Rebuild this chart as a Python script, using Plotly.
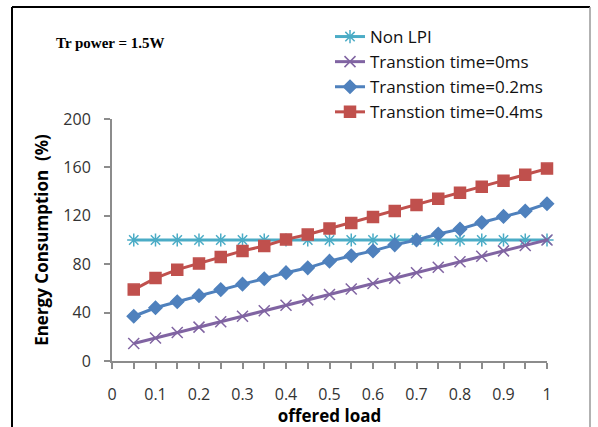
import plotly.graph_objects as go

load = [0.05, 0.1, 0.15, 0.2, 0.25, 0.3, 0.35, 0.4, 0.45, 0.5,
        0.55, 0.6, 0.65, 0.7, 0.75, 0.8, 0.85, 0.9, 0.95, 1.0]
non_lpi = [100] * 20
t_0ms = [14.5, 19, 23.5, 28, 32.5, 37, 41.5, 46, 50.5, 55,
         59.5, 64, 68.5, 73, 77.5, 82, 86.5, 91, 95.5, 100]
t_02ms = [37, 44, 49, 54, 59, 63.5, 68, 73, 77, 82.5,
          87, 91, 96, 100, 105, 109, 114.5, 119.5, 124, 130]
t_04ms = [59, 68.5, 75.5, 80.5, 86, 91, 95, 100.5, 104.5, 109.5,
          114, 119, 124, 129, 134, 139, 144, 149, 154, 159]

names = ["Non LPI", "Transtion time=0ms", "Transtion time=0.2ms", "Transtion time=0.4ms"]
colors = ["#4BACC6", "#8064A2", "#4F81BD", "#C0504D"]
symbols = ["asterisk-open", "x-thin-open", "diamond", "square"]
sizes = [11, 11, 10, 11]
series = [non_lpi, t_0ms, t_02ms, t_04ms]

W, H = 598, 427
L, R, T, B = 112, 51, 119, 66
pw, ph = W - L - R, H - T - B

def px_x(p):
    return (p - L) / pw

def px_y(p):
    return (H - B - p) / ph

fig = go.Figure()
for n, c, s, sz, v in zip(names, colors, symbols, sizes, series):
    fig.add_trace(go.Scatter(
        x=load, y=v, name=n, mode="lines+markers",
        line=dict(color=c, width=3),
        marker=dict(symbol=s, size=sz, color=c, line=dict(color=c, width=1.5)),
        cliponaxis=False,
    ))

axis_col = "#8C8C8C"
tick_font = dict(family="Open Sans", size=16, color="#333333")
fig.update_layout(
    width=W, height=H,
    margin=dict(l=L, r=R, t=T, b=B, autoexpand=False),
    paper_bgcolor="white", plot_bgcolor="white",
    showlegend=True,
    legend=dict(
        x=px_x(330), y=px_y(19), xanchor="left", yanchor="top",
        font=dict(family="Open Sans", size=17, color="#111111"),
        bgcolor="rgba(0,0,0,0)", tracegroupgap=0,
    ),
    xaxis=dict(
        range=[0, 1], tickmode="linear", tick0=0, dtick=0.1,
        showgrid=False, zeroline=False,
        showline=True, linecolor=axis_col, linewidth=2,
        ticks="outside", ticklen=6, tickcolor=axis_col, tickwidth=1.5,
        minor=dict(dtick=0.05, ticks="outside", ticklen=6, tickcolor=axis_col, tickwidth=1.5, showgrid=False),
        tickfont=tick_font, ticklabelstandoff=12,
        title=dict(text="<b>offered load</b>", font=dict(family="Open Sans", size=17, color="black"), standoff=7),
    ),
    yaxis=dict(
        range=[0, 200], tickmode="linear", tick0=0, dtick=40,
        showgrid=False, zeroline=False,
        showline=True, linecolor=axis_col, linewidth=2,
        ticks="outside", ticklen=6, tickcolor=axis_col, tickwidth=1.5,
        tickfont=tick_font, ticklabelstandoff=10,
        title=dict(text="<b>Energy Consumption  (%)</b>", font=dict(family="Open Sans", size=17, color="black"), standoff=10),
    ),
    shapes=[
        dict(type="line", xref="paper", yref="paper", x0=px_x(12), x1=px_x(12), y0=px_y(7), y1=px_y(430),
             line=dict(color="black", width=2)),
        dict(type="line", xref="paper", yref="paper", x0=px_x(12), x1=px_x(590), y0=px_y(7), y1=px_y(7),
             line=dict(color="black", width=2)),
        dict(type="line", xref="paper", yref="paper", x0=px_x(590), x1=px_x(590), y0=px_y(7), y1=px_y(430),
             line=dict(color="#999999", width=1.5)),
    ],
    annotations=[
        dict(text="<b>Tr power = 1.5W</b>", xref="paper", yref="paper",
             x=px_x(54), y=px_y(43), xanchor="left", yanchor="middle", showarrow=False,
             font=dict(family="Liberation Serif", size=15, color="black")),
    ],
)

fig.write_html("out.html")
